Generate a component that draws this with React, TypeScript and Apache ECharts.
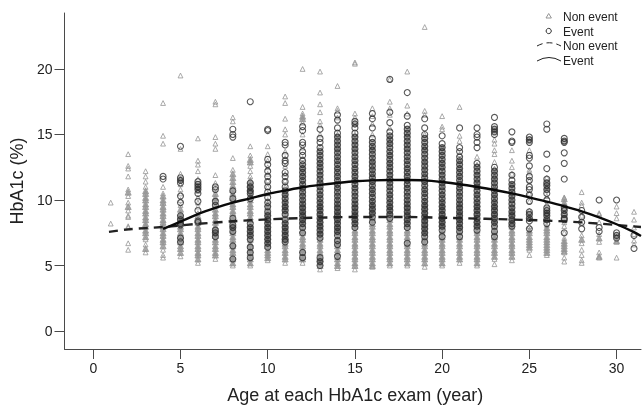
import React, { useEffect, useRef } from "react";
import * as echarts from "echarts";

const FONT = '"Liberation Sans", Arial, sans-serif';
const tickValuesX = [0, 5, 10, 15, 20, 25, 30];
const tickValuesY = [0, 5, 10, 15, 20];
const xMin = -1.65;
const xMax = 31.4;
const yMin = -1.37;
const yMax = 24.27;

// Index 0 is age 1, index 1 is age 2, and so on.
const nonEventByAge: number[][] = [
  [8.2, 9.8],
  [13.5, 12.6, 12.4, 11.8, 10.8, 10.6, 10.3, 9.8, 9.5, 9.2, 8.8, 8.7, 8, 7.9, 6.7, 6.2],
  [12.2, 11.8, 11.4, 11, 10.7, 10.5, 10.2, 10, 9.7, 9.5, 9.2, 9, 8.7, 8.5, 8.2, 8, 7.7, 7.5, 7.2, 7, 6.6, 6.3, 6],
  [17.4, 14.9, 14.3, 11, 10.5, 10.3, 10, 9.8, 9.5, 9.3, 9, 8.8, 8.5, 8.3, 8, 7.8, 7.5, 7.3, 7, 6.8, 6.5, 6.2, 5.8, 5.6],
  [19.5, 13.9, 12, 11.6, 11.2, 10.8, 10.5, 10, 9.6, 9.3, 9, 8.8, 8.5, 8.3, 8, 7.8, 7.5, 7.3, 7, 6.8, 6.5, 6.3, 6, 5.7],
  [14.7, 13, 12.7, 12.2, 11.6, 11, 10.7, 10.2, 9.8, 9.5, 9, 8.8, 8.5, 8.3, 8, 7.8, 7.5, 7.3, 7, 6.8, 6.5, 6.3, 6, 5.8, 5.5, 5.2],
  [17.5, 17.3, 14.8, 14.3, 13.9, 11.9, 11.3, 10.8, 10.5, 10.2, 9.9, 9.6, 9.3, 9, 8.8, 8.5, 8.3, 8, 7.8, 7.5, 7.3, 7, 6.8, 6.5, 6.3, 6, 5.8, 5.5],
  [16.3, 16, 13.2, 12.3, 12, 11.7, 11.4, 11.1, 10.8, 10.5, 10.2, 10, 9.7, 9.5, 9.2, 9, 8.7, 8.5, 8.2, 8, 7.7, 7.5, 7.2, 7, 6.7, 6.5, 6.2, 6, 5.7, 5.5, 5.2, 5],
  [14.1, 13.4, 13.1, 12.9, 12.6, 12.2, 11.8, 11.5, 11.2, 10.9, 10.6, 10.3, 10, 9.7, 9.5, 9.2, 9, 8.7, 8.5, 8.2, 8, 7.7, 7.5, 7.2, 7, 6.7, 6.5, 6.2, 6, 5.7, 5.5, 5.2, 5],
  [14.1, 13.5, 13, 12.5, 12, 11.5, 11, 10.5, 10, 9.7, 9.5, 9.2, 9, 8.7, 8.5, 8.2, 8, 7.7, 7.5, 7.2, 7, 6.7, 6.5, 6.2, 6, 5.8, 5.6, 5.4],
  [17.9, 17.4, 16.2, 15.4, 15, 13.7, 13.2, 12.6, 12, 11.5, 11, 10.5, 10, 9.7, 9.5, 9.2, 9, 8.7, 8.5, 8.2, 8, 7.7, 7.5, 7.2, 7, 6.7, 6.5, 6.2, 6, 5.7, 5.5, 5.2],
  [20, 17.1, 16.6, 16.4, 16.2, 15.9, 15, 14, 13.2, 12.5, 12, 11.5, 11, 10.5, 10, 9.7, 9.5, 9.2, 9, 8.7, 8.5, 8.2, 8, 7.7, 7.5, 7.2, 7, 6.7, 6.5, 6.2, 6, 5.7, 5.5, 5.2],
  [19.8, 18.2, 17.3, 16.7, 16, 15.7, 15, 14, 13, 12.5, 12, 11.5, 11, 10.5, 10, 9.7, 9.5, 9.2, 9, 8.7, 8.5, 8.2, 8, 7.7, 7.5, 7.2, 7, 6.7, 6.5, 6.2, 6, 5.7, 5.5, 5.2, 5, 4.7],
  [18.7, 17, 16.8, 16.3, 15, 14, 13, 12.5, 12, 11.5, 11, 10.5, 10, 9.7, 9.5, 9.2, 9, 8.7, 8.5, 8.2, 8, 7.7, 7.5, 7.2, 7, 6.7, 6.5, 6.2, 6, 5.7, 5.5, 5.2, 5, 4.8],
  [20.5, 20.4, 16.6, 16.3, 15, 14, 13, 12.5, 12, 11.5, 11, 10.5, 10, 9.7, 9.5, 9.2, 9, 8.7, 8.5, 8.2, 8, 7.7, 7.5, 7.2, 7, 6.7, 6.5, 6.2, 6, 5.7, 5.5, 5.2, 5, 4.7],
  [17, 16.4, 15.8, 15, 14, 13, 12.5, 12, 11.5, 11, 10.5, 10, 9.7, 9.5, 9.2, 9, 8.7, 8.5, 8.2, 8, 7.7, 7.5, 7.2, 7, 6.7, 6.5, 6.2, 6, 5.7, 5.5, 5.2, 5, 4.9],
  [19.2, 17.5, 17, 16.5, 15.5, 14.5, 13.5, 13, 12.5, 12, 11.5, 11, 10.5, 10, 9.7, 9.5, 9.2, 9, 8.7, 8.5, 8.2, 8, 7.7, 7.5, 7.2, 7, 6.7, 6.5, 6.2, 6, 5.7, 5.5, 5.2, 5],
  [19.8, 17.2, 16.6, 15, 14, 13, 12.5, 12, 11.5, 11, 10.5, 10, 9.7, 9.5, 9.2, 9, 8.7, 8.5, 8.2, 8, 7.7, 7.5, 7.2, 7, 6.7, 6.5, 6.2, 6, 5.7, 5.5, 5.2, 5],
  [23.2, 16.8, 16.5, 15, 14, 13, 12.5, 12, 11.5, 11, 10.5, 10, 9.7, 9.5, 9.2, 9, 8.7, 8.5, 8.2, 8, 7.7, 7.5, 7.2, 7, 6.7, 6.5, 6.2, 6, 5.7, 5.5, 5.2, 4.9],
  [16.4, 15.6, 15.4, 14, 13, 12.5, 12, 11.5, 11, 10.5, 10, 9.7, 9.5, 9.2, 9, 8.7, 8.5, 8.2, 8, 7.7, 7.5, 7.2, 7, 6.7, 6.5, 6.2, 6, 5.7, 5.5, 5.2, 5],
  [17.1, 14.9, 14.5, 13.5, 13, 12.5, 12, 11.5, 11, 10.5, 10, 9.7, 9.5, 9.2, 9, 8.7, 8.5, 8.2, 8, 7.7, 7.5, 7.2, 7, 6.7, 6.5, 6.2, 6, 5.7, 5.5, 5.2],
  [13.3, 12.7, 12, 11.5, 11, 10.5, 10, 9.7, 9.5, 9.2, 9, 8.7, 8.5, 8.2, 8, 7.7, 7.5, 7.2, 7, 6.7, 6.5, 6.2, 6, 5.7, 5.5, 5.2, 5],
  [14.6, 14.3, 13.8, 13.5, 12.9, 12.4, 11.8, 11, 10.5, 10, 9.7, 9.5, 9.2, 9, 8.7, 8.5, 8.2, 8, 7.7, 7.5, 7.2, 7, 6.7, 6.5, 6.2, 6, 5.7, 5.5, 5.1],
  [13.8, 13, 12.5, 12, 11.2, 10.5, 10, 9.5, 9.2, 9, 8.7, 8.5, 8.2, 8, 7.7, 7.5, 7.2, 7, 6.7, 6.5, 6.2, 6, 5.7, 5.4],
  [14.5, 13.8, 12.3, 12.1, 11.5, 10.5, 9.9, 9.2, 8.6, 8, 7.7, 7.5, 7.2, 7, 6.8, 6.6, 6.4, 6.2, 5.8],
  [11.7, 11, 10.3, 9.7, 9, 8.5, 8.1, 7.9, 7.7, 7.5, 7.2, 7, 6.8, 6.6, 6.4, 6.2, 6, 5.8],
  [10.2, 10.1, 9.8, 9.6, 9, 8.3, 8, 7.5, 7.1, 6.9, 6.7, 6.5, 6.3, 6.1, 6, 5.6, 5.3],
  [10.6, 9.8, 9.6, 8.8, 8.2, 7.3, 7, 6.7, 6.2, 5.8, 5.4, 5.2],
  [9, 8.9, 8.3, 7.4, 7.1, 6.8, 6, 5.7, 5.6],
  [9.5, 9, 8.6, 7.2, 6.9, 6.8, 5.6],
  [9.1, 8.5, 7.9, 7.4, 6.9, 6.6],
];

const eventByAge: number[][] = [
  [],
  [],
  [],
  [11.8, 11.6],
  [14.1, 11.7, 11.5, 11.3, 10.3, 9.8, 8.8, 8.5, 8.2, 8.1, 7.1, 6.8],
  [11.4, 11.2, 11, 10.8, 10.5, 9.9, 9.2, 8.4, 8.3],
  [11, 10.8, 9.9, 9.6, 7.7, 7.5, 7.2],
  [15.4, 15, 14.8, 10.7, 10.1, 8.6, 8.1, 7.9, 7.6, 6.5, 5.5],
  [17.5, 11.3, 11, 10.7, 10.5, 10.1, 8.2, 7.9, 7.6, 7.3, 7, 6.4, 6, 5.6],
  [15.4, 15.3, 13.1, 12.7, 12.2, 11.8, 11.4, 11, 10.6, 10.2, 9.8, 9.5, 9.1, 8.8, 8.5, 8.2, 7.9, 7.6, 7.3, 7, 6.7, 6.4],
  [14.4, 14.2, 13.4, 13, 12.8, 12.1, 11.8, 11.4, 11, 10.7, 10.4, 10.1, 9.8, 9.5, 9.2, 8.9, 8.5, 8.2, 7.9, 7.6, 7.3, 7, 6.8],
  [15.6, 15.3, 14.4, 14.2, 13.7, 13.4, 13, 12.7, 12.4, 12.1, 11.8, 11.5, 11.2, 10.9, 10.6, 10.3, 10, 9.7, 9.4, 9.1, 8.8, 8.5, 8.2, 7.9, 7.5, 6, 5.6],
  [15.4, 14.7, 14.4, 14, 13.7, 13.4, 13.1, 12.8, 12.5, 12.2, 11.9, 11.6, 11.3, 11, 10.7, 10.4, 10.1, 9.8, 9.5, 9.2, 8.9, 8.6, 8.3, 8, 7.7, 7.4, 7.1, 5.6, 5.3, 5],
  [16.5, 16.1, 15.5, 15.1, 14.8, 14.5, 14.2, 13.9, 13.6, 13.3, 13, 12.7, 12.4, 12.1, 11.8, 11.5, 11.2, 10.9, 10.6, 10.3, 10, 9.7, 9.4, 9.1, 8.8, 8.5, 8.2, 7.9, 7.6, 7.3, 6.9, 6.6, 5.7],
  [16, 15.8, 15.5, 15.1, 14.8, 14.5, 14.2, 13.9, 13.6, 13.3, 13, 12.7, 12.4, 12.1, 11.8, 11.5, 11.2, 10.9, 10.6, 10.3, 10, 9.7, 9.4, 9.1, 8.8, 8.5, 8.2, 7.9],
  [16.6, 16.2, 15.5, 14.7, 14.4, 14.1, 13.8, 13.5, 13.2, 12.9, 12.6, 12.3, 12, 11.7, 11.4, 11.1, 10.8, 10.5, 10.2, 9.9, 9.6, 9.3, 9, 8.7, 8.3],
  [19.2, 16.7, 15.9, 15.2, 14.9, 14.6, 14.3, 14, 13.7, 13.4, 13.1, 12.8, 12.5, 12.2, 11.9, 11.6, 11.3, 11, 10.7, 10.4, 10.1, 9.8, 9.5, 9.2, 8.9, 8.6],
  [18.2, 16.4, 15.7, 15.4, 15.1, 14.8, 14.5, 14.2, 13.9, 13.6, 13.3, 13, 12.7, 12.4, 12.1, 11.8, 11.5, 11.2, 10.9, 10.6, 10.3, 10, 9.7, 9.4, 9.1, 8.8, 8.5, 8.2, 7.9, 6.7],
  [16.2, 15.5, 15, 14.7, 14.4, 14.1, 13.8, 13.5, 13.2, 12.9, 12.6, 12.3, 12, 11.7, 11.4, 11.1, 10.8, 10.5, 10.2, 9.9, 9.6, 9.3, 9, 8.7, 8.4, 8.1, 7.8, 7.5, 7.2, 6.8],
  [14.9, 14.3, 14, 13.7, 13.4, 13.1, 12.8, 12.5, 12.2, 11.9, 11.6, 11.3, 11, 10.7, 10.4, 10.1, 9.8, 9.5, 9.2, 8.9, 8.6, 8.3, 8, 7.7, 7.2],
  [15.5, 14, 13.7, 13.3, 13, 12.7, 12.4, 12.1, 11.8, 11.5, 11.2, 10.9, 10.6, 10.3, 10, 9.7, 9.4, 9.1, 8.8, 8.5, 8.2, 7.9, 7.6, 7.2],
  [15.5, 15, 14.8, 14.4, 14, 12.8, 12.5, 12.2, 11.9, 11.6, 11.3, 11, 10.7, 10.4, 10.1, 9.8, 9.5, 9.2, 8.9, 8.6, 8.3, 8, 7.7],
  [16.3, 15.6, 15.4, 15.2, 15, 12.5, 12.2, 11.9, 11.6, 11.3, 11, 10.7, 10.4, 10.1, 9.8, 9.5, 9.2, 8.9, 8.6, 8.3, 8, 7.6, 7.2],
  [15.2, 14.5, 14.4, 11.9, 11.5, 11.2, 10.9, 10.6, 10.3, 10, 9.7, 9.4, 9.1, 8.8, 8.5, 8.2, 8],
  [14.8, 14.6, 14.4, 13.4, 13.2, 12.6, 11.8, 11.5, 11, 10.8, 10.4, 9.9, 9.1, 8.9, 8.6, 8.4, 7.8],
  [15.8, 15.4, 13.5, 12.4, 11.6, 11.3, 11.1, 10.8, 10.5, 10, 9.4, 9.2, 9, 8.8, 8.5, 8.2],
  [14.7, 14.5, 14.4, 13.6, 12.8, 11.6, 9.4, 9.2, 8.9, 8.6, 8.5, 7.5],
  [9.2, 8.7, 8.3, 7.8],
  [10, 7.9, 7.6],
  [10, 7.5, 7.3, 7.1],
  [7.3, 6.3],
];

const nonEventFitAges = [0.9, 2, 4, 6, 8, 10, 12, 15, 18, 20, 25, 27, 29, 31.4];
const nonEventFitValues = [7.57, 7.76, 7.94, 8.18, 8.38, 8.52, 8.62, 8.7, 8.7, 8.65, 8.47, 8.37, 8.2, 7.94];
const eventFitAges = [4, 5, 6, 7, 8, 9, 10, 11, 12, 13, 14, 15, 16, 17, 18, 19, 20, 21, 22, 23, 24, 25, 26, 27, 28, 29, 30, 31, 31.4];
const eventFitValues = [7.8, 8.35, 8.93, 9.4, 9.8, 10.12, 10.46, 10.72, 10.97, 11.15, 11.3, 11.43, 11.5, 11.53, 11.53, 11.5, 11.37, 11.2, 10.99, 10.76, 10.5, 10.2, 9.87, 9.52, 9.14, 8.68, 8.15, 7.55, 7.25];

const legendLabels = ["Non event", "Event", "Non event", "Event"];
const xTitle = "Age at each HbA1c exam (year)";
const yTitle = "HbA1c (%)";

const zip = (a: number[], b: number[]) => a.map((x, i) => [x, b[i]]);

// A mark with close neighbours on both sides sits in a packed part of the column.
const isPacked = (vals: number[], i: number, gap: number) =>
  i > 0 && i < vals.length - 1 && vals[i - 1] - vals[i] <= gap && vals[i] - vals[i + 1] <= gap;

const AXIS_COLOR = "#4a4a4a";
const TRI = "#959595";
const CIRC = "#2e2e2e";

const nonEventPoints = nonEventByAge.flatMap((vals, a) =>
  vals.map((v, i) => ({
    value: [a + 1, v],
    symbolSize: isPacked(vals, i, 0.31) ? 6 : 4.8,
    itemStyle: { color: isPacked(vals, i, 0.31) ? TRI : "rgba(255,255,255,0)", borderColor: TRI, borderWidth: 1 },
  })),
);
const eventPoints = eventByAge.flatMap((vals, a) =>
  vals.map((v, i) => ({
    value: [a + 1, v],
    itemStyle: {
      color: isPacked(vals, i, 0.31) ? "rgba(40,40,40,0.45)" : "rgba(255,255,255,0)",
      borderColor: CIRC,
      borderWidth: isPacked(vals, i, 0.31) ? 1.2 : 1.1,
    },
  })),
);

export default function App() {
  const ref = useRef<HTMLDivElement>(null);
  useEffect(() => {
    const chart = echarts.init(ref.current!, undefined, { renderer: "svg" });
    const legendText = legendLabels.map((t, i) => ({
      type: "text",
      x: 563,
      y: [17, 32, 46, 61][i],
      style: { text: t, font: `12px ${FONT}`, fill: "#222", verticalAlign: "middle" },
      silent: true,
    }));
    chart.setOption({
      animation: false,
      backgroundColor: "#fff",
      grid: { left: 64.5, right: 1, top: 13, bottom: 56, containLabel: false, outerBoundsMode: "none" },
      xAxis: {
        type: "value",
        min: xMin,
        max: xMax,
        name: xTitle,
        nameLocation: "middle",
        nameGap: 37,
        nameTextStyle: { fontFamily: FONT, fontSize: 18, color: "#222", padding: [0, 0, 0, 5] },
        splitLine: { show: false },
        axisLine: { show: true, onZero: false, lineStyle: { color: AXIS_COLOR, width: 1 } },
        axisTick: { show: true, length: 10, customValues: tickValuesX, lineStyle: { color: AXIS_COLOR, width: 1 } },
        axisLabel: { customValues: tickValuesX, fontFamily: FONT, fontSize: 14, color: "#222", margin: 12 },
      },
      yAxis: {
        type: "value",
        min: yMin,
        max: yMax,
        name: yTitle,
        nameLocation: "middle",
        nameGap: 38,
        nameRotate: 90,
        nameTextStyle: { fontFamily: FONT, fontSize: 18, color: "#222" },
        splitLine: { show: false },
        axisLine: { show: true, onZero: false, lineStyle: { color: AXIS_COLOR, width: 1 } },
        axisTick: { show: true, length: 10, customValues: tickValuesY, lineStyle: { color: AXIS_COLOR } },
        axisLabel: { customValues: tickValuesY, fontFamily: FONT, fontSize: 14, color: "#222", margin: 12 },
      },
      series: [
        {
          name: "Non event",
          type: "scatter",
          symbol: "triangle",
          symbolSize: 5,
          data: nonEventPoints,
          silent: true,
          z: 2,
        },
        {
          name: "Event",
          type: "scatter",
          symbol: "circle",
          symbolSize: 6,
          data: eventPoints,
          silent: true,
          z: 3,
        },
        {
          name: "Non event fit",
          type: "line",
          smooth: 0.3,
          showSymbol: false,
          data: zip(nonEventFitAges, nonEventFitValues),
          lineStyle: { color: "#222", width: 2.4, type: [9, 6] },
          silent: true,
          z: 4,
        },
        {
          name: "Event fit",
          type: "line",
          smooth: 0.3,
          showSymbol: false,
          data: zip(eventFitAges, eventFitValues),
          lineStyle: { color: "#0a0a0a", width: 2.4 },
          silent: true,
          z: 5,
        },
      ],
      graphic: [
        {
          type: "polygon",
          shape: { points: [[548.7, 13.5], [546, 18], [551.4, 18]] },
          style: { fill: "none", stroke: TRI, lineWidth: 1 },
          silent: true,
        },
        {
          type: "circle",
          shape: { cx: 548.7, cy: 31, r: 2.6 },
          style: { fill: "none", stroke: CIRC, lineWidth: 1 },
          silent: true,
        },
        {
          type: "bezierCurve",
          shape: { x1: 537, y1: 46, x2: 561, y2: 46, cpx1: 549, cpy1: 39.5 },
          style: { fill: "none", stroke: "#222", lineWidth: 1, lineDash: [6, 4] },
          silent: true,
        },
        {
          type: "bezierCurve",
          shape: { x1: 537, y1: 61, x2: 561, y2: 61, cpx1: 549, cpy1: 54 },
          style: { fill: "none", stroke: "#222", lineWidth: 1 },
          silent: true,
        },
        ...legendText,
      ],
    });
    return () => chart.dispose();
  }, []);
  return <div ref={ref} style={{ width: 642, height: 405, position: "absolute", left: 0, top: 0, filter: "blur(0.35px)" }} />;
}
